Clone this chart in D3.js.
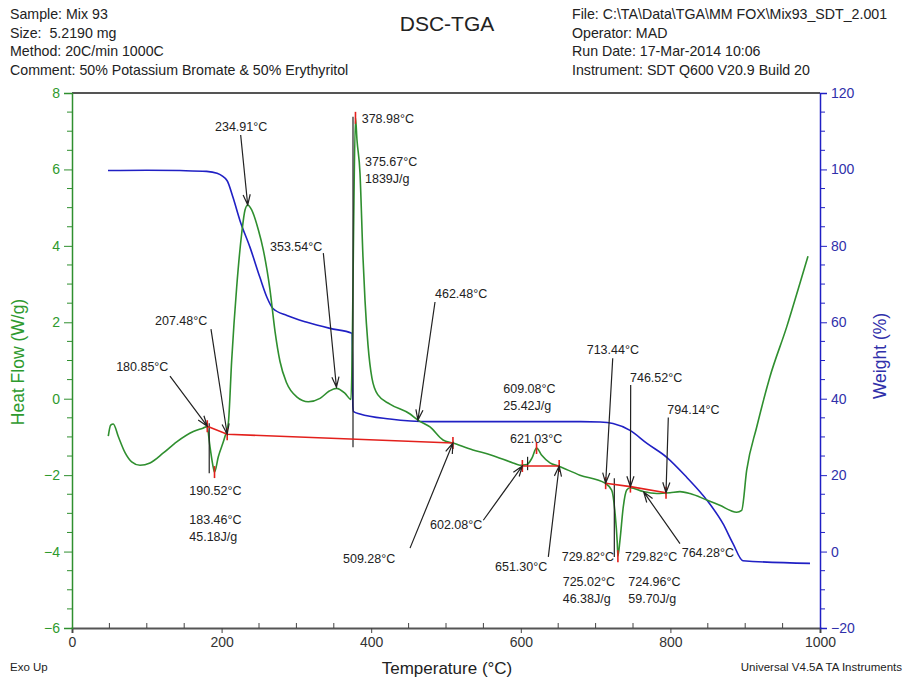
<!DOCTYPE html>
<html><head><meta charset="utf-8">
<script src="https://cdn.jsdelivr.net/npm/d3@7"></script>
<style>body{margin:0;background:#fff} svg{display:block} text{font-family:"Liberation Sans",Arial,sans-serif}</style>
</head><body><svg id="c" width="906" height="679"></svg>
<script>
// ---------- data ----------
const dscTemp = [48.5, 51.7, 55.2, 61.9, 70.9, 79.8, 90.9, 104.3, 122.1, 140, 162.2, 175, 180.5, 184.5, 188.9, 190.5, 195.6, 204.5, 209, 213.5, 220.2, 226.9, 231.3, 234.9, 240.2, 249.1, 255.8, 264.7, 271.5, 278, 287, 300.4, 315.9, 331.6, 344, 353.5, 365, 373, 374.8, 376.5, 378.98, 381, 385, 389, 391.7, 395.7, 401, 409, 425, 452, 462.5, 478.6, 496, 509.3, 536, 560, 589.6, 598.9, 608.3, 615, 621, 628, 639, 650, 679, 712.6, 721.5, 726, 729, 729.82, 732.6, 737, 741.6, 746, 763.4, 781.7, 799.5, 812.8, 826.2, 848.5, 866, 888.6, 895.3, 902, 915.4, 933, 955.5, 973.3, 984];
const dscHeatFlow = [-0.98, -0.69, -0.66, -0.99, -1.41, -1.65, -1.74, -1.68, -1.42, -1.13, -0.86, -0.77, -0.73, -1.26, -1.80, -1.92, -1.52, -0.99, -0.64, 1.01, 2.93, 4.33, 4.94, 5.07, 4.94, 4.42, 3.89, 2.85, 1.75, 0.98, 0.41, 0.05, -0.08, 0.01, 0.20, 0.27, 0.14, -0.02, 1.5, 4.5, 7.35, 6.77, 5.91, 3.71, 2.58, 1.41, 0.54, 0.10, -0.14, -0.40, -0.56, -0.74, -1.08, -1.16, -1.34, -1.47, -1.68, -1.74, -1.72, -1.55, -1.29, -1.48, -1.68, -1.76, -2.00, -2.21, -2.39, -2.99, -3.78, -4.12, -3.70, -2.83, -2.39, -2.33, -2.43, -2.48, -2.46, -2.43, -2.48, -2.65, -2.79, -2.97, -2.92, -1.87, -0.74, 0.57, 1.88, 3.03, 3.73];

const tgaTemp = [48.1, 100, 144.4, 180, 193.9, 207.2, 215.2, 224.6, 238, 251.3, 260.7, 268.7, 287.4, 314.2, 344.9, 374.5, 375.5, 376.5, 385, 425, 478.6, 545, 620, 680, 706, 723.3, 746, 768.7, 795.5, 822, 849, 870.3, 883.7, 897, 986.6];
const tgaWeight = [99.7, 99.8, 99.7, 99.5, 99.0, 97.1, 92.7, 86.6, 79.6, 71.7, 66.5, 63.6, 61.8, 60.0, 58.4, 57.1, 38.0, 36.6, 36.0, 34.7, 34.0, 34.0, 34.0, 34.0, 33.9, 33.5, 31.7, 28.3, 24.6, 19.4, 13.4, 7.3, 2.1, -2.4, -3.1];

// integration baselines (red)
const baseline1Temp = [180.85, 207.48, 509.28], baseline1HF = [-0.72, -0.93, -1.16];
const baseline2Temp = [602.08, 651.30],         baseline2HF = [-1.76, -1.76];
const baseline3Temp = [713.44, 746.52, 794.14], baseline3HF = [-2.21, -2.30, -2.46];

// peak integration limit lines (black)
const limitTemp = [183.46, 375.67, 609.08, 725.02];
const limitTop = [-0.64, 7.38, -1.52, -2.08];
const limitBottom = [-1.95, -1.27, -1.87, -4.14];

// marker points (red ticks)
const markerTemp = [180.85, 190.52, 207.48, 378.98, 509.28, 602.08, 621.03, 651.30, 713.44, 729.82, 746.52, 794.14];
const markerHF   = [-0.72, -1.92, -0.93, 7.35, -1.16, -1.76, -1.29, -1.76, -2.21, -4.12, -2.30, -2.46];

// tick labels
const xTicks = [0, 200, 400, 600, 800, 1000];
const hfTicks = [-6, -4, -2, 0, 2, 4, 6, 8];
const wtTicks = [-20, 0, 20, 40, 60, 80, 100, 120];

const headerLeft = ["Sample: Mix 93", "Size:  5.2190 mg", "Method: 20C/min 1000C", "Comment: 50% Potassium Bromate & 50% Erythyritol"];
const headerRight = ["File: C:\\TA\\Data\\TGA\\MM FOX\\Mix93_SDT_2.001", "Operator: MAD", "Run Date: 17-Mar-2014 10:06", "Instrument: SDT Q600 V20.9 Build 20"];

// annotation labels: text lines, anchor at (temperature, heat flow)
const labelText = [
  ["180.85°C"], ["207.48°C"], ["234.91°C"], ["353.54°C"], ["378.98°C"], ["375.67°C", "1839J/g"],
  ["462.48°C"], ["509.28°C"], ["609.08°C", "25.42J/g"], ["621.03°C"], ["602.08°C"], ["651.30°C"],
  ["713.44°C"], ["746.52°C"], ["794.14°C"], ["729.82°C"], ["729.82°C"], ["764.28°C"],
  ["725.02°C", "46.38J/g"], ["724.96°C", "59.70J/g"], ["190.52°C"], ["183.46°C", "45.18J/g"]
];
const labelT  = [59.0, 111, 191.2, 264.7, 387.3, 391.7, 485.3, 362.3, 576.6, 585.6, 478.6, 565.5, 688.1, 746, 795.9, 654.7, 739.3, 815.1, 656, 743.7, 156.8, 156.8];
const labelHF = [0.73, 1.94, 7.01, 3.87, 7.22, 6.09, 2.64, -4.29, 0.15, -1.17, -3.42, -4.51, 1.16, 0.44, -0.41, -4.25, -4.25, -4.14, -4.90, -4.90, -2.51, -3.29];

// arrows: from (T,HF) to tip (T,HF)
const arrowFromT  = [131, 185.8, 225.5, 336, 485.3, 451.9, 549.9, 636.8, 722.9, 746.9, 797.2, 812.8];
const arrowFromHF = [0.59, 1.82, 6.90, 3.81, 2.53, -3.91, -3.18, -4.14, 1.06, 0.36, -0.49, -3.79];
const arrowToT    = [180.85, 207.48, 234.91, 353.54, 462.48, 509.28, 602.08, 651.30, 713.44, 746.52, 794.14, 764.28];
const arrowToHF   = [-0.72, -0.93, 5.07, 0.30, -0.56, -1.16, -1.76, -1.76, -2.21, -2.30, -2.46, -2.44];

// ---------- drawing ----------
const svg = d3.select("#c");
const L = 72, R = 820, T = 93, B = 628;
const x = d3.scaleLinear().domain([0, 1000]).range([L, R]);
const yH = d3.scaleLinear().domain([-6, 8]).range([B, T]);
const yW = d3.scaleLinear().domain([-20, 120]).range([B, T]);

const GREEN = "#2f8f2f", GREEN_TXT = "#2e9a2e", BLUE = "#2020c4", BLUE_TXT = "#3030aa", RED = "#e3201c", TXT = "#222";

// header
svg.append("g").selectAll("text").data(headerLeft).join("text")
  .attr("x", 10).attr("y", (d, i) => 19 + i * 18.5).attr("font-size", 14.2).attr("fill", TXT).style("white-space", "pre").text(d => d);
svg.append("g").selectAll("text").data(headerRight).join("text")
  .attr("x", 572).attr("y", (d, i) => 19 + i * 18.5).attr("font-size", 14.2).attr("fill", TXT).text(d => d);
svg.append("text").attr("x", 447).attr("y", 31).attr("text-anchor", "middle").attr("font-size", 21).attr("fill", TXT).text("DSC-TGA");

// frame top & bottom
svg.append("line").attr("x1", L).attr("x2", R).attr("y1", T).attr("y2", T).attr("stroke", "#555").attr("stroke-width", 2);

// x axis
const gx = svg.append("g").attr("transform", `translate(0,${B})`);
gx.call(d3.axisBottom(x).tickValues(xTicks).tickSize(5).tickPadding(4).tickFormat(d3.format("d")));
gx.select(".domain").attr("stroke", "#555").attr("stroke-width", 2);
gx.selectAll(".tick line").attr("stroke", "#444");
gx.selectAll(".tick text").attr("font-size", 14).attr("fill", "#333").style("font-family", '"Liberation Sans",Arial,sans-serif');
gx.append("g").selectAll("line").data(d3.range(50, 1000, 50).filter(v => v % 200 !== 0)).join("line")
  .attr("x1", d => x(d)).attr("x2", d => x(d)).attr("y1", 0).attr("y2", -5).attr("stroke", "#444");

// left axis
const gl = svg.append("g").attr("transform", `translate(${L},0)`);
gl.call(d3.axisLeft(yH).tickValues(hfTicks).tickSize(8).tickPadding(4).tickFormat(d3.format("d")));
gl.select(".domain").attr("stroke", GREEN).attr("stroke-width", 1.5);
gl.selectAll(".tick line").attr("stroke", GREEN);
gl.selectAll(".tick text").attr("font-size", 14).attr("fill", GREEN_TXT).style("font-family", '"Liberation Sans",Arial,sans-serif');
gl.append("g").selectAll("line").data(d3.range(-6, 8, 0.5).filter(v => v % 2 !== 0)).join("line")
  .attr("x1", 0).attr("x2", -5).attr("y1", d => yH(d)).attr("y2", d => yH(d)).attr("stroke", GREEN);

// right axis
const gr = svg.append("g").attr("transform", `translate(${R},0)`);
gr.call(d3.axisRight(yW).tickValues(wtTicks).tickSize(7).tickPadding(4).tickFormat(d3.format("d")));
gr.select(".domain").attr("stroke", BLUE).attr("stroke-width", 1.5);
gr.selectAll(".tick line").attr("stroke", BLUE);
gr.selectAll(".tick text").attr("font-size", 14).attr("fill", BLUE_TXT).style("font-family", '"Liberation Sans",Arial,sans-serif');
gr.append("g").selectAll("line").data(d3.range(-20, 120, 5).filter(v => v % 20 !== 0)).join("line")
  .attr("x1", 0).attr("x2", 5).attr("y1", d => yW(d)).attr("y2", d => yW(d)).attr("stroke", BLUE);

// axis titles
svg.append("text").attr("transform", "translate(24,362) rotate(-90)").attr("text-anchor", "middle")
  .attr("font-size", 17.5).attr("fill", GREEN_TXT).text("Heat Flow (W/g)");
svg.append("text").attr("transform", "translate(886,356) rotate(-90)").attr("text-anchor", "middle")
  .attr("font-size", 17.5).attr("fill", BLUE_TXT).text("Weight (%)");
svg.append("text").attr("x", 447).attr("y", 674).attr("text-anchor", "middle").attr("font-size", 17).attr("fill", TXT).text("Temperature (°C)");
svg.append("text").attr("x", 10).attr("y", 671).attr("font-size", 11.5).attr("fill", TXT).text("Exo Up");
svg.append("text").attr("x", 902).attr("y", 671).attr("text-anchor", "end").attr("font-size", 11.5).attr("fill", TXT).text("Universal V4.5A TA Instruments");

// curves
const tga = tgaTemp.map((t, i) => [t, tgaWeight[i]]);
const dsc = dscTemp.map((t, i) => [t, dscHeatFlow[i]]);
svg.append("path").datum(tga).attr("fill", "none").attr("stroke", BLUE).attr("stroke-width", 1.6)
  .attr("d", d3.line().x(d => x(d[0])).y(d => yW(d[1])).curve(d3.curveMonotoneX));
svg.append("path").datum(dsc).attr("fill", "none").attr("stroke", GREEN).attr("stroke-width", 1.6)
  .attr("d", d3.line().x(d => x(d[0])).y(d => yH(d[1])).curve(d3.curveMonotoneX));

// limit lines
svg.append("g").selectAll("line").data(limitTemp).join("line")
  .attr("x1", d => x(d)).attr("x2", d => x(d))
  .attr("y1", (d, i) => yH(limitTop[i])).attr("y2", (d, i) => yH(limitBottom[i]))
  .attr("stroke", "#222").attr("stroke-width", 1.2);

// baselines
const bl = d3.line().x(d => x(d[0])).y(d => yH(d[1]));
[[baseline1Temp, baseline1HF], [baseline2Temp, baseline2HF], [baseline3Temp, baseline3HF]].forEach(([ts, hs]) => {
  svg.append("path").datum(ts.map((t, i) => [t, hs[i]])).attr("fill", "none").attr("stroke", RED).attr("stroke-width", 1.6).attr("d", bl);
});

// markers
svg.append("g").selectAll("line").data(markerTemp).join("line")
  .attr("x1", d => x(d)).attr("x2", d => x(d))
  .attr("y1", (d, i) => yH(markerHF[i]) - 6).attr("y2", (d, i) => yH(markerHF[i]) + 6)
  .attr("stroke", RED).attr("stroke-width", 1.6);

// arrows
const ag = svg.append("g").attr("stroke", "#222").attr("stroke-width", 1.2).attr("fill", "none");
arrowToT.forEach((t, i) => {
  const x1 = x(arrowFromT[i]), y1 = yH(arrowFromHF[i]), x2 = x(t), y2 = yH(arrowToHF[i]);
  const a = Math.atan2(y2 - y1, x2 - x1), len = 11, phi = 0.33;
  const h1 = [x2 - len * Math.cos(a - phi), y2 - len * Math.sin(a - phi)];
  const h2 = [x2 - len * Math.cos(a + phi), y2 - len * Math.sin(a + phi)];
  ag.append("path").attr("d", `M${x1},${y1}L${x2},${y2}M${h1[0]},${h1[1]}L${x2},${y2}L${h2[0]},${h2[1]}`);
});

// labels
const lg = svg.append("g").attr("font-size", 12.5).attr("fill", TXT);
labelText.forEach((lines, i) => {
  const tx = lg.append("text").attr("x", x(labelT[i])).attr("y", yH(labelHF[i]));
  lines.forEach((s, j) => tx.append("tspan").attr("x", x(labelT[i])).attr("dy", j ? 17 : 0).text(s));
});
</script></body></html>
